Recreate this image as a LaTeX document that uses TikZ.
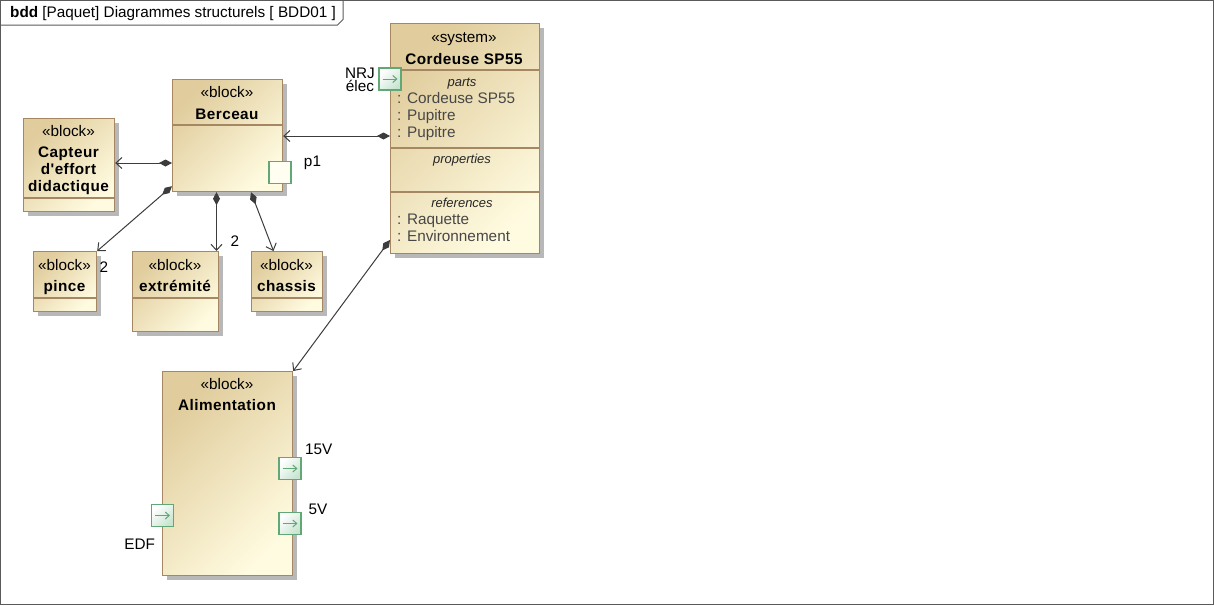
\documentclass[tikz,border=0pt]{standalone}
\usepackage{fontspec}
\setmainfont{Liberation Sans}[Ligatures=TeXOff]
\usepackage{xcolor}
\usepackage{tikz}
\usetikzlibrary{positioning}
\usetikzlibrary{arrows.meta}
\usetikzlibrary{shadows}

\definecolor{blkA}{RGB}{224,204,156}
\definecolor{blkB}{RGB}{255,251,224}
\definecolor{blkline}{RGB}{165,135,100}
\definecolor{portline}{RGB}{96,168,118}
\definecolor{portfill}{RGB}{200,228,208}
\definecolor{linkgray}{RGB}{60,60,60}
\definecolor{framegray}{RGB}{90,90,90}

\begin{document}
\begin{tikzpicture}[x=1pt,y=-1pt,
    blk/.style={rectangle, draw=blkline, line width=1.2pt, inner sep=0pt, anchor=north west,
        top color=blkA, bottom color=blkB, shading angle=45,
        drop shadow={shadow xshift=4pt, shadow yshift=-4pt, fill=black!28, opacity=1}},
    sep/.style={draw=blkline, line width=1.2pt},
    port/.style={rectangle, draw=portline, line width=1.2pt, minimum size=22pt, inner sep=0pt,
        top color=white, bottom color=portfill, shading angle=45,
        path picture={\draw[portline, line width=1pt, -{Straight Barb[length=4pt,width=7pt]}]
            ([xshift=3.5pt]path picture bounding box.west) -- ([xshift=-3.5pt]path picture bounding box.east);}},
    plainport/.style={rectangle, draw=portline, line width=1.2pt, minimum size=22pt, inner sep=0pt,
        fill=yellow!6},
    txt/.style={font=\fontsize{15.3}{17}\selectfont, inner sep=0pt, anchor=base},
    bname/.style={txt, font=\fontsize{15.3}{17}\selectfont\bfseries\addfontfeatures{LetterSpace=3}},
    comp/.style={txt, font=\fontsize{13}{15}\selectfont\itshape, text=black!85},
    item/.style={txt, anchor=base west, text=black!72},
    link/.style={draw=linkgray, line width=1pt, {Diamond[length=13pt,width=7pt]}-{Straight Barb[length=6pt,width=11pt]}}
    ]

\useasboundingbox (0,0) rectangle (1214,605);

%\draw[gray,very thin, step=50pt, opacity=0.5] (0,0) grid (1214,605);

% frame
\draw[framegray, line width=1pt] (0.5,0.5) rectangle (1213.5,604.5);
\draw[framegray, line width=1pt] (0.5,25) -- (337.5,25) -- (343,19.5) -- (343,0.5);
\node[txt, anchor=base west] (title) at (10,17) {\textbf{bdd} [Paquet] Diagrammes structurels [ BDD01 ]};

% blocks
\node[blk, minimum width=149pt, minimum height=230pt] (cordeuse) at (390,23) {};
\node[blk, minimum width=110pt, minimum height=112pt] (berceau) at (172,79) {};
\node[blk, minimum width=91pt, minimum height=93pt] (capteur) at (23,118) {};
\node[blk, minimum width=63pt, minimum height=60pt] (pince) at (33,251) {};
\node[blk, minimum width=86pt, minimum height=80pt] (extremite) at (132,251) {};
\node[blk, minimum width=71pt, minimum height=60pt] (chassis) at (251,251) {};
\node[blk, minimum width=130pt, minimum height=204pt] (alim) at (162,371) {};

\draw[sep] (cordeuse.west |- 0,70) -- (cordeuse.east |- 0,70);
\draw[sep] (cordeuse.west |- 0,148) -- (cordeuse.east |- 0,148);
\draw[sep] (cordeuse.west |- 0,192) -- (cordeuse.east |- 0,192);
\draw[sep] (berceau.west |- 0,125) -- (berceau.east |- 0,125);
\draw[sep] (capteur.west |- 0,198) -- (capteur.east |- 0,198);
\draw[sep] (pince.west |- 0,298) -- (pince.east |- 0,298);
\draw[sep] (extremite.west |- 0,298) -- (extremite.east |- 0,298);
\draw[sep] (chassis.west |- 0,298) -- (chassis.east |- 0,298);

% Cordeuse SP55
\node[txt] (cordStereo) at (464,42) {«system»};
\node[bname] (cordName) at (464,64) {Cordeuse SP55};
\node[comp] (cordParts) at (462,86.5) {parts};
\node[item] (partA) at (397,103.5) {: Cordeuse SP55};
\node[item] (partB) at (397,120.5) {: Pupitre};
\node[item] (partC) at (397,137.5) {: Pupitre};
\node[comp] (cordProps) at (462,163.5) {properties};
\node[comp] (cordRefs) at (462,207.5) {references};
\node[item] (refA) at (397,224.5) {: Raquette};
\node[item] (refB) at (397,241.5) {: Environnement};

% Berceau and its parts
\node[txt] (bercStereo) at (227,97.5) {«block»};
\node[bname] (bercName) at (227,119) {Berceau};

\node[txt] (captStereo) at (68.5,136.5) {«block»};
\node[bname] (captName) at (68.5,157.7) {Capteur};
\node[bname] (captNameB) at (68.5,174.5) {d'effort};
\node[bname] (captNameC) at (68.5,191.7) {didactique};

\node[txt] (pinceStereo) at (64.5,270.7) {«block»};
\node[bname] (pinceName) at (64.5,291.7) {pince};
\node[txt] (extrStereo) at (175,270.7) {«block»};
\node[bname] (extrName) at (175,291.7) {extrémité};
\node[txt] (chasStereo) at (286.5,270.7) {«block»};
\node[bname] (chasName) at (286.5,291.7) {chassis};

% Alimentation
\node[txt] (alimStereo) at (227,389.3) {«block»};
\node[bname] (alimName) at (227,410.7) {Alimentation};

% ports
\node[port] (nrj) at (390,79) {};
\node[txt] (nrjLabel) at (360,78.3) {NRJ};
\node[txt] (nrjLabelB) at (360,91.7) {élec};
\node[plainport] (pOne) at (280,172.5) {};
\node[txt] (pOneLabel) at (312.5,166) {p1};
\node[port] (v15) at (290,468.5) {};
\node[txt, anchor=base west] (v15Label) at (305,454.3) {15V};
\node[port] (v5) at (290,523.5) {};
\node[txt, anchor=base west] (v5Label) at (308.5,514.3) {5V};
\node[port] (edf) at (162.5,515.5) {};
\node[txt] (edfLabel) at (139.7,549.3) {EDF};

% connectors
\draw[link] (cordeuse.west |- 0,136) -- (berceau.east |- 0,136);
\draw[link] (berceau.west |- 0,163) -- (capteur.east |- 0,163);
\draw[link] ([yshift=6pt]berceau.south west) -- (pince.north east);
\draw[link] (berceau.south -| 216.5,0) -- (extremite.north -| 216.5,0);
\draw[link] (berceau.south -| 251,0) -- (chassis.north -| 273.5,0);
\draw[link] (cordeuse.west |- 0,240) -- (alim.north east);

\node[txt] (multPince) at (104,272.3) {2};
\node[txt] (multExtr) at (235,246) {2};

\end{tikzpicture}
\end{document}
